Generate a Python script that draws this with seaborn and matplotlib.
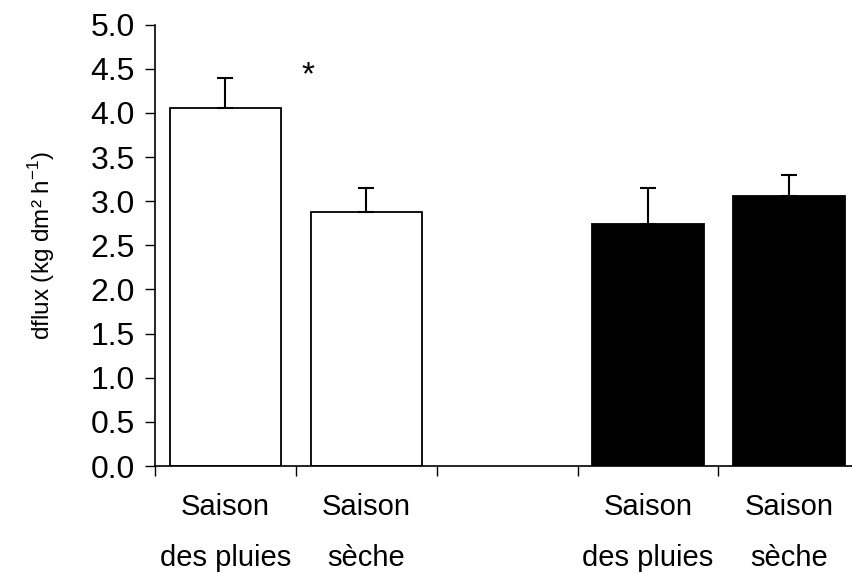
import numpy as np
import pandas as pd
import matplotlib
matplotlib.use("Agg")
import matplotlib.pyplot as plt
import seaborn as sns

# data
groups = ["A_pluies", "A_seche", "B_pluies", "B_seche"]
slot_order = ["A_pluies", "A_seche", "gap", "B_pluies", "B_seche"]
slot_labels = ["Saison\ndes pluies", "Saison\nsèche", "", "Saison\ndes pluies", "Saison\nsèche"]
means = [4.06, 2.88, 2.745, 3.055]
err_up = [0.335, 0.265, 0.40, 0.24]
fills = ["white", "white", "black", "black"]

sns.set_style("ticks")
plt.rcParams["font.family"] = ["Liberation Sans", "DejaVu Sans"]
plt.rcParams["text.color"] = "black"
plt.rcParams["axes.labelcolor"] = "black"
plt.rcParams["xtick.color"] = "black"
plt.rcParams["ytick.color"] = "black"
plt.rcParams["axes.edgecolor"] = "black"

df = pd.DataFrame({"group": groups, "flux": means})

fig = plt.figure(figsize=(8.53, 5.73), dpi=100)
ax = fig.add_axes([0.1817, 0.1867, 0.8257, 0.7702])

sns.barplot(data=df, x="group", y="flux", hue="group", order=slot_order,
            palette=dict(zip(groups, fills)), dodge=False, legend=False,
            errorbar=None, width=0.79, edgecolor="black", linewidth=1.3, ax=ax)

# upper error bars only
pos = [slot_order.index(g) for g in groups]
ax.errorbar(pos, means, yerr=[np.zeros(len(means)), err_up], fmt="none",
            ecolor="black", elinewidth=1.5, capsize=5.8, capthick=1.5, zorder=3)

ax.text(0.586, 4.33, "*", ha="center", va="baseline", fontsize=24)

ax.set_xlim(-0.5, 4.5)
ax.set_ylim(0, 5.0)
yt = np.arange(0, 5.01, 0.5)
ax.set_yticks(yt)
ax.set_yticklabels([f"{v:.1f}" for v in yt], fontsize=23)

# ticks at slot boundaries, labels at slot centres
ax.set_xticks(np.arange(-0.5, 4.0, 1.0))
ax.set_xticklabels([])
ax.set_xticks(np.arange(0, 5), minor=True)
ax.set_xticklabels(slot_labels, minor=True, fontsize=21, linespacing=2.05)
ax.tick_params(axis="x", which="minor", length=0, pad=19.5)
ax.tick_params(axis="x", which="major", length=7.5, width=1, direction="out")
ax.tick_params(axis="y", length=7.5, width=1, direction="out", pad=7)

ax.set_xlabel("")
ax.set_ylabel("dflux (kg dm² h$^{\\mathregular{-1}}$)", fontsize=17.5, labelpad=24)

for s in ["top", "right"]:
    ax.spines[s].set_visible(False)
ax.spines["left"].set_linewidth(1.2)
ax.spines["bottom"].set_linewidth(1.2)

fig.savefig("out.png", dpi=100)
